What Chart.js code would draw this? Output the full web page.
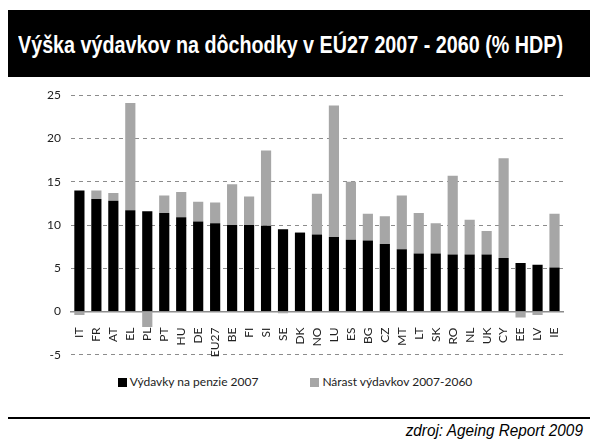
<!DOCTYPE html>
<html>
<head>
<meta charset="utf-8">
<script src="https://cdn.jsdelivr.net/npm/chart.js@4/dist/chart.umd.min.js"></script>
<style>
  html, body { margin: 0; padding: 0; background: #fff; }
  #page { position: relative; width: 590px; height: 440px; overflow: hidden; }
  #title {
    position: absolute; left: 8px; top: 10px; width: 582px; height: 67px;
    background: #000; color: #fff; overflow: hidden;
  }
  #title span {
    position: absolute; left: 10px; top: 21px; white-space: nowrap;
    font: bold 24px "Liberation Sans", Arial, sans-serif; transform-origin: left top;
  }
  #wrap { position: absolute; left: 0; top: 78px; width: 590px; height: 294px; }
  #legend {
    position: absolute; left: 0; top: 374px; width: 590px; text-align: center;
    font: 12px Lato, "Open Sans", sans-serif; color: #222;
  }
  #legend span.item { display: inline-block; margin: 0 26px; }
  #legend span.box { display: inline-block; width: 9px; height: 9px; margin-right: 3px; vertical-align: -1px; }
  #rule { position: absolute; left: 8px; top: 417px; width: 582px; height: 2px; background: #000; }
  #source {
    position: absolute; right: 7px; top: 421px; white-space: nowrap;
    font: italic 17px "Liberation Sans", Arial, sans-serif; color: #000;
    transform: scaleX(0.9); transform-origin: right top;
  }
</style>
</head>
<body>
<div id="page">
  <div id="title"><span>Výška výdavkov na dôchodky v EÚ27 2007 - 2060 (% HDP)</span></div>
  <div id="wrap"><canvas id="chart" width="590" height="294"></canvas></div>
  <div id="legend"></div>
  <div id="rule"></div>
  <div id="source">zdroj: Ageing Report 2009</div>
</div>
<script>
// krajiny a hodnoty (% HDP)
const countries = ['IT','FR','AT','EL','PL','PT','HU','DE','EU27','BE','FI','SI','SE','DK','NO','LU','ES','BG','CZ','MT','LT','SK','RO','NL','UK','CY','EE','LV','IE'];
const spending2007 = [14.0,13.0,12.8,11.7,11.6,11.4,10.9,10.4,10.2,10.0,10.0,9.9,9.5,9.1,8.9,8.6,8.3,8.2,7.8,7.2,6.7,6.7,6.6,6.6,6.6,6.2,5.6,5.4,5.1];
const increase2060 = [-0.4,1.0,0.9,12.4,-1.8,2.0,2.9,2.3,2.4,4.7,3.3,8.7,-0.2,0.1,4.7,15.2,6.7,3.1,3.2,6.2,4.7,3.5,9.1,4.0,2.7,11.5,-0.7,-0.4,6.2];
const seriesNames = ['Výdavky na penzie 2007', 'Nárast výdavkov 2007-2060'];
const seriesColors = ['#000000', '#a6a6a6'];
const yTicks = [-5, 0, 5, 10, 15, 20, 25];

const tickFont = { family: 'Lato, "Open Sans", sans-serif', size: 12 };

// nadpis stlačiť na šírku ako v predlohe (úzke písmo)
const titleSpan = document.querySelector('#title span');
titleSpan.style.transform = `scaleX(${545 / titleSpan.offsetWidth})`;

// legenda v HTML
document.getElementById('legend').innerHTML = seriesNames.map((name, i) =>
  `<span class="item"><span class="box" style="background:${seriesColors[i]}"></span>${name}</span>`
).join('');

const ctx = document.getElementById('chart').getContext('2d');
new Chart(ctx, {
  type: 'bar',
  data: {
    labels: countries,
    datasets: [
      { label: seriesNames[0], data: spending2007, backgroundColor: seriesColors[0] },
      { label: seriesNames[1], data: increase2060, backgroundColor: seriesColors[1] }
    ]
  },
  options: {
    responsive: false,
    animation: false,
    maintainAspectRatio: false,
    devicePixelRatio: 1,
    layout: { padding: { left: 37, right: 27, top: 15, bottom: 15 } },
    plugins: {
      legend: { display: false },
      tooltip: { enabled: false }
    },
    datasets: { bar: { categoryPercentage: 1, barPercentage: 0.6 } },
    scales: {
      x: {
        stacked: true,
        position: { y: 0 },
        grid: { display: false, drawTicks: false },
        border: { display: true, color: '#8c8c8c', width: 1.5 },
        ticks: {
          autoSkip: false, minRotation: 90, maxRotation: 90,
          padding: 16, color: '#222', font: tickFont
        }
      },
      y: {
        stacked: true,
        min: -5, max: 25,
        afterBuildTicks: scale => { scale.ticks = yTicks.map(v => ({ value: v })); },
        grid: { color: '#8c8c8c', lineWidth: 1, drawTicks: false },
        border: { display: false, dash: [4, 4] },
        ticks: { padding: 10, color: '#222', font: tickFont }
      }
    }
  }
});
</script>
</body>
</html>
